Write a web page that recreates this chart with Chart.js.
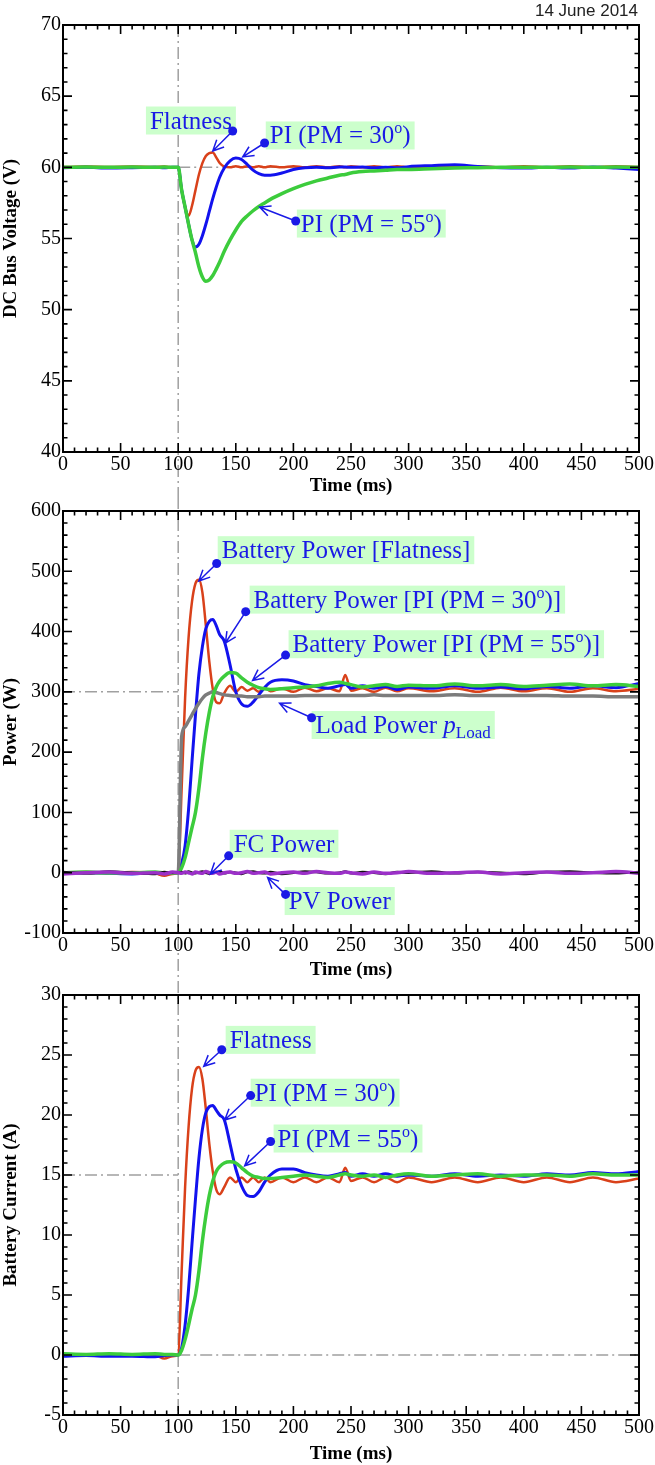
<!DOCTYPE html>
<html>
<head>
<meta charset="utf-8">
<script src="https://cdn.jsdelivr.net/npm/chart.js@4"></script>
<style>
  body { margin: 0; background: #fff; }
  #wrap { position: relative; width: 655px; height: 1465px; }
  canvas { position: absolute; left: 0; }
  #date { position: absolute; right: 17px; top: 1px; font: 17px "Liberation Sans Narrow", "Liberation Sans", sans-serif; color: #222; }
</style>
</head>
<body>
<div id="wrap">
  <canvas id="busChart" width="655" height="497" style="top:0px"></canvas>
  <canvas id="powChart" width="655" height="484" style="top:497px"></canvas>
  <canvas id="curChart" width="655" height="484" style="top:981px"></canvas>
  <div id="date">14 June 2014</div>
</div>
<script>
// time grid (ms), shared by every trace
var timeMs = [0, 20, 40, 60, 80, 88, 95,
  100, 103, 106, 109, 112, 115, 118, 121, 124, 127, 130, 133, 136,
  140, 145, 150, 155, 160, 165, 170, 175, 180,
  190, 200, 210, 220, 230, 240, 245, 250,
  260, 270, 280, 290, 300,
  320, 340, 360, 380, 400,
  420, 440, 460, 480, 500];

// DC bus voltage (V)
var busFlat = [60.02, 60.05, 60.02, 60.05, 60.02, 60.05, 60.0,
  60.0, 58.4, 57.2, 56.6, 57.3, 58.4, 59.5, 60.3, 60.8, 61.0, 61.05, 60.7, 60.3,
  60.05, 60.0, 60.08, 60.0, 60.08, 60.0, 60.08, 60.0, 60.08,
  60.0, 60.08, 60.0, 60.08, 60.0, 60.08, 60.0, 60.08,
  60.0, 60.08, 60.0, 60.08, 60.0,
  60.08, 60.0, 60.08, 60.0, 60.08,
  60.0, 60.08, 60.0, 60.08, 60.02];
var busPI30 = [59.97, 60.0, 59.95, 59.97, 60.0, 59.97, 60.0,
  60.0, 58.4, 57.2, 56.0, 54.9, 54.4, 54.6, 55.2, 56.0, 56.9, 57.8, 58.6, 59.3,
  59.95, 60.45, 60.65, 60.55, 60.2, 59.8, 59.55, 59.45, 59.45,
  59.6, 59.85, 59.97, 60.0, 59.97, 60.02, 60.02, 60.0,
  60.02, 59.97, 60.0, 59.97, 60.05,
  60.12, 60.18, 60.05, 59.97, 59.95,
  60.0, 59.95, 60.02, 59.95, 59.85];
var busPI55 = [60.0, 60.02, 60.0, 60.02, 60.0, 60.02, 60.0,
  60.0, 58.4, 57.2, 56.0, 54.9, 54.0, 53.0, 52.3, 52.0, 52.1, 52.4, 52.85, 53.35,
  54.1, 54.9, 55.6, 56.2, 56.6, 56.95, 57.25, 57.5, 57.75,
  58.15, 58.5, 58.8, 59.05, 59.25, 59.45, 59.5, 59.6,
  59.7, 59.75, 59.8, 59.85, 59.85,
  59.9, 59.95, 59.97, 60.0, 60.0,
  60.0, 60.02, 60.0, 60.02, 60.0];

// powers (W)
var powFlat = [0, 1, 0, 1, -1, -5, -2,
  0, 140, 290, 390, 450, 480, 486, 465, 410, 350, 305, 283, 281,
  298, 310, 300, 308, 302, 306, 300, 307, 301,
  306, 300, 307, 301, 306, 301, 328, 302,
  306, 300, 307, 301, 306,
  301, 306, 300, 307, 301,
  306, 300, 306, 301, 305];
var powPI30 = [-1, 0, -1, -2, 0, -1, 0,
  0, 15, 45, 105, 185, 262, 330, 375, 405, 417, 420, 410, 395,
  384, 345, 300, 280, 276, 283, 295, 307, 316,
  320, 318, 312, 309, 306, 310, 312, 306,
  310, 306, 309, 304, 308,
  306, 310, 306, 308, 305,
  309, 306, 310, 307, 314];
var powPI55 = [0, 1, 0, 0, 1, 0, 0,
  0, 8, 25, 50, 75, 100, 140, 190, 232, 266, 292, 308, 318,
  326, 332, 331, 323, 316, 311, 307, 305, 304,
  305, 307, 308, 310, 314, 316, 314, 312,
  308, 310, 312, 309, 311,
  310, 313, 310, 312, 309,
  311, 313, 310, 312, 309];
var powLoad = [0, 0, 0, 0, 0, 0, 0,
  0, 225, 242, 252, 262, 272, 281, 289, 295, 298, 300, 299, 297,
  295, 294, 293, 293, 292, 292, 292, 293, 293,
  293, 293, 294, 294, 294, 294, 294, 294,
  294, 295, 294, 294, 294,
  294, 295, 294, 294, 294,
  294, 293, 293, 292, 292];
var powFC = [1, -1, 2, 0, -2, 1, 0,
  0, 1, -1, 2, 0, -1, 1, 2, 0, -2, 1, 0, 2,
  -1, 1, 0, -2, 1, 2, 0, -1, 1,
  -2, 0, 2, 1, -1, 0, 2, -1,
  1, 0, -2, 1, 0,
  2, -1, 1, 0, -2,
  1, 2, 0, -1, 1];
var powPV = [-2, 0, 1, -1, 0, -2, 1,
  0, -1, 1, 0, -2, 1, 0, -1, 2, 0, -1, 1, -2,
  0, 1, -1, 0, 2, -1, 0, 1, -2,
  0, 1, -1, 2, 0, -1, 1, 0,
  -2, 1, -1, 0, 2,
  -1, 0, 1, -2, 0,
  1, -1, 0, 2, -1];

// battery current (A)
var curFlat = [0, 0.05, 0, 0.05, 0, -0.3, -0.1,
  0, 7, 14, 19, 22.2, 23.7, 24.0, 23.0, 20.5, 17.6, 15.3, 13.8, 13.4,
  14.0, 14.8, 14.4, 14.8, 14.4, 14.8, 14.4, 14.8, 14.4,
  14.8, 14.4, 14.8, 14.4, 14.8, 14.4, 15.6, 14.5,
  14.8, 14.4, 14.8, 14.4, 14.8,
  14.4, 14.8, 14.4, 14.8, 14.4,
  14.8, 14.4, 14.8, 14.4, 14.7];
var curPI30 = [-0.1, -0.05, -0.1, -0.1, -0.15, -0.05, 0,
  0, 0.6, 2.5, 5.5, 9.3, 13.0, 16.4, 18.8, 20.2, 20.7, 20.8, 20.4, 20.0,
  19.6, 17.6, 15.5, 14.1, 13.3, 13.2, 13.6, 14.4, 15.0,
  15.5, 15.5, 15.2, 15.0, 14.9, 15.1, 15.2, 14.9,
  15.1, 14.9, 15.1, 14.9, 15.0,
  14.9, 15.1, 14.9, 15.0, 14.9,
  15.1, 15.0, 15.2, 15.1, 15.3];
var curPI55 = [0.1, 0.05, 0.1, 0.05, 0.1, 0.05, 0.05,
  0, 0.4, 1.3, 2.5, 3.8, 5.0, 7.0, 9.5, 11.6, 13.3, 14.5, 15.3, 15.7,
  16.0, 16.1, 16.0, 15.6, 15.2, 14.9, 14.8, 14.7, 14.7,
  14.8, 14.9, 15.0, 14.9, 14.8, 15.0, 15.1, 15.0,
  14.9, 15.0, 14.8, 15.0, 15.1,
  14.9, 15.0, 15.1, 14.9, 15.0,
  15.0, 14.9, 15.1, 15.0, 15.0];

// dash-dot guide levels: [from ms, to ms, value]
var stepTime = 100;
var busRefs = [[100, 500, 60]];
var powRefs = [[0, 100, 300]];
var curRefs = [[0, 100, 15], [100, 500, 0]];

var cRed = '#d9411a', cBlue = '#1212ee', cGreen = '#3ccc3c', cGray = '#7c7c7c', cPurple = '#9b30c8';
var noteBlue = '#1a1ae6';
var serif = '"Liberation Serif", "Times New Roman", serif';

Chart.defaults.font.family = serif;
Chart.defaults.color = '#000';

function pts(ys) {
  return timeMs.map(function (t, i) { return { x: t, y: ys[i] }; });
}

function trace(ys, color, width, order) {
  return {
    data: pts(ys), borderColor: color, borderWidth: width, pointRadius: 0,
    cubicInterpolationMode: 'monotone', order: order, fill: false
  };
}

function guides(refs) {
  return refs.map(function (r) {
    return {
      data: [{ x: r[0], y: r[2] }, { x: r[1], y: r[2] }],
      borderColor: '#a0a0a0', borderWidth: 1.5, borderDash: [12, 4, 2, 4],
      pointRadius: 0, order: 20
    };
  });
}

function noteFont(kind) {
  if (kind === 'sup') return '16px ' + serif;
  if (kind === 'sub') return '17px ' + serif;
  if (kind === 'it') return 'italic 25px ' + serif;
  return '25px ' + serif;
}

// x of a note is the left edge of its green box
function drawNotes(chart, notes) {
  var ctx = chart.ctx, sx = chart.scales.x, sy = chart.scales.y;
  ctx.save();
  notes.forEach(function (n) {
    var w = 0;
    n.parts.forEach(function (p) { ctx.font = noteFont(p[1]); w += ctx.measureText(p[0]).width; });
    var bx = sx.getPixelForValue(n.x), cy = sy.getPixelForValue(n.y);
    ctx.fillStyle = '#ccffcc';
    ctx.fillRect(bx, cy - 14, w + 8, 28);
    var xx = bx + 4, base = cy + 8;
    ctx.fillStyle = noteBlue;
    n.parts.forEach(function (p) {
      ctx.font = noteFont(p[1]);
      var dy = p[1] === 'sup' ? -10 : (p[1] === 'sub' ? 5 : 0);
      ctx.fillText(p[0], xx, base + dy);
      xx += ctx.measureText(p[0]).width;
    });
    // arrow from the dot to the curve
    var dx = sx.getPixelForValue(n.dot[0]), dy2 = sy.getPixelForValue(n.dot[1]);
    var tx = sx.getPixelForValue(n.tip[0]), ty = sy.getPixelForValue(n.tip[1]);
    var ang = Math.atan2(ty - dy2, tx - dx);
    ctx.strokeStyle = noteBlue;
    ctx.lineWidth = 1.5;
    ctx.beginPath();
    ctx.moveTo(dx, dy2);
    ctx.lineTo(tx, ty);
    ctx.moveTo(tx - 12 * Math.cos(ang - 0.45), ty - 12 * Math.sin(ang - 0.45));
    ctx.lineTo(tx, ty);
    ctx.lineTo(tx - 12 * Math.cos(ang + 0.45), ty - 12 * Math.sin(ang + 0.45));
    ctx.stroke();
    ctx.beginPath();
    ctx.arc(dx, dy2, 4.5, 0, Math.PI * 2);
    ctx.fill();
  });
  ctx.restore();
}

function makeChart(id, cfg) {
  var canvas = document.getElementById(id);
  var framePlugin = {
    id: 'frame' + id,
    beforeDraw: function (chart) {
      var a = chart.chartArea, ctx = chart.ctx;
      var px = chart.scales.x.getPixelForValue(stepTime);
      var y0 = cfg.lineFromArea ? a.top : 0;
      var y1 = cfg.lineToArea ? a.bottom : chart.height;
      ctx.save();
      ctx.strokeStyle = '#a0a0a0';
      ctx.lineWidth = 1.5;
      ctx.setLineDash([12, 4, 2, 4]);
      ctx.beginPath();
      ctx.moveTo(px, y0);
      ctx.lineTo(px, y1);
      ctx.stroke();
      ctx.restore();
    },
    afterDatasetsDraw: function (chart) {
      var a = chart.chartArea, ctx = chart.ctx, sx = chart.scales.x, sy = chart.scales.y;
      ctx.save();
      ctx.strokeStyle = '#000';
      ctx.lineWidth = 1.6;
      ctx.beginPath();
      var n = Math.round(500 / 10);
      for (var i = 0; i <= n; i++) {
        var v = i * 10, p = sx.getPixelForValue(v), len = (i % 5 === 0) ? 9 : 4.5;
        ctx.moveTo(p, a.bottom); ctx.lineTo(p, a.bottom - len);
        ctx.moveTo(p, a.top); ctx.lineTo(p, a.top + len);
      }
      var m = Math.round((cfg.max - cfg.min) / cfg.minor);
      var every = Math.round(cfg.step / cfg.minor);
      for (var j = 0; j <= m; j++) {
        var q = sy.getPixelForValue(cfg.min + j * cfg.minor), l2 = (j % every === 0) ? 9 : 4.5;
        ctx.moveTo(a.left, q); ctx.lineTo(a.left + l2, q);
        ctx.moveTo(a.right, q); ctx.lineTo(a.right - l2, q);
      }
      ctx.stroke();
      ctx.lineWidth = 2;
      ctx.strokeRect(a.left, a.top, a.right - a.left, a.bottom - a.top);
      ctx.restore();
    },
    afterDraw: function (chart) { drawNotes(chart, cfg.notes); }
  };

  return new Chart(canvas, {
    type: 'line',
    data: { datasets: cfg.datasets },
    options: {
      responsive: false,
      animation: false,
      events: [],
      layout: { autoPadding: false, padding: { top: cfg.top, right: 15, bottom: 0, left: 0 } },
      plugins: { legend: { display: false }, tooltip: { enabled: false } },
      scales: {
        x: {
          type: 'linear', min: 0, max: 500,
          afterFit: function (s) { s.height = cfg.xh; },
          ticks: { stepSize: 50, padding: 1, maxRotation: 0, autoSkip: false, font: { size: 20 }, color: '#000' },
          grid: { display: false, drawTicks: false },
          border: { display: false },
          title: { display: true, text: 'Time (ms)', font: { size: 19, weight: 'bold' }, padding: 0, color: '#000' }
        },
        y: {
          type: 'linear', min: cfg.min, max: cfg.max,
          afterFit: function (s) { s.width = 63; },
          ticks: { stepSize: cfg.step, padding: 2, font: { size: 20 }, color: '#000' },
          grid: { display: false, drawTicks: false },
          border: { display: false },
          title: { display: true, text: cfg.title, font: { size: 19, weight: 'bold' }, padding: 0, color: '#000' }
        }
      }
    },
    plugins: [framePlugin]
  });
}

var pm30 = [['PI (PM = 30'], ['o', 'sup'], [')']];
var pm55 = [['PI (PM = 55'], ['o', 'sup'], [')']];

makeChart('busChart', {
  top: 25, xh: 45, min: 40, max: 70, step: 5, minor: 1,
  title: 'DC Bus Voltage (V)', lineFromArea: true, lineToArea: false,
  datasets: [
    trace(busPI55, cGreen, 3.5, 0),
    trace(busPI30, cBlue, 3, 1),
    trace(busFlat, cRed, 2.5, 2)
  ].concat(guides(busRefs)),
  notes: [
    { parts: [['Flatness']], x: 72, y: 63.29, dot: [147.3, 62.55], tip: [130, 61.15] },
    { parts: pm30, x: 176, y: 62.24, dot: [175, 61.71], tip: [156, 60.73] },
    { parts: pm55, x: 203, y: 56.05, dot: [202, 56.23], tip: [170.7, 57.21] }
  ]
});

makeChart('powChart', {
  top: 8, xh: 48, min: -100, max: 600, step: 100, minor: 20,
  title: 'Power (W)', lineFromArea: false, lineToArea: false,
  datasets: [
    trace(powPV, cPurple, 3.5, 0),
    trace(powFC, '#111', 2.5, 1),
    trace(powPI55, cGreen, 3.5, 2),
    trace(powLoad, cGray, 3.5, 3),
    trace(powPI30, cBlue, 3, 4),
    trace(powFlat, cRed, 2.5, 5)
  ].concat(guides(powRefs)),
  notes: [
    { parts: [['Battery Power [Flatness]']], x: 134.3, y: 535, dot: [133.4, 513], tip: [117.9, 484] },
    { parts: [['Battery Power [PI (PM = 30'], ['o', 'sup'], [')]']], x: 162, y: 453, dot: [158.6, 433], tip: [141, 381] },
    { parts: [['Battery Power [PI (PM = 55'], ['o', 'sup'], [')]']], x: 195.8, y: 379, dot: [193.2, 361], tip: [164.6, 319] },
    { parts: [['Load Power '], ['p', 'it'], ['Load', 'sub']], x: 215.8, y: 245, dot: [215.8, 257], tip: [188, 281] },
    { parts: [['FC Power']], x: 144.7, y: 48, dot: [143.8, 28], tip: [128, -2] },
    { parts: [['PV Power']], x: 192.4, y: -47, dot: [193.2, -36], tip: [177.6, -8] }
  ]
});

makeChart('curChart', {
  top: 4, xh: 50, min: -5, max: 30, step: 5, minor: 1,
  title: 'Battery Current (A)', lineFromArea: false, lineToArea: true,
  datasets: [
    trace(curPI55, cGreen, 3.5, 0),
    trace(curPI30, cBlue, 3, 1),
    trace(curFlat, cRed, 2.5, 2)
  ].concat(guides(curRefs)),
  notes: [
    { parts: [['Flatness']], x: 141.2, y: 26.26, dot: [137.8, 25.44], tip: [122.2, 24.06] },
    { parts: pm30, x: 162.9, y: 21.86, dot: [162.9, 21.62], tip: [140.4, 19.58] },
    { parts: pm55, x: 182.8, y: 18.04, dot: [180.2, 17.79], tip: [157.7, 15.76] }
  ]
});
</script>
</body>
</html>
